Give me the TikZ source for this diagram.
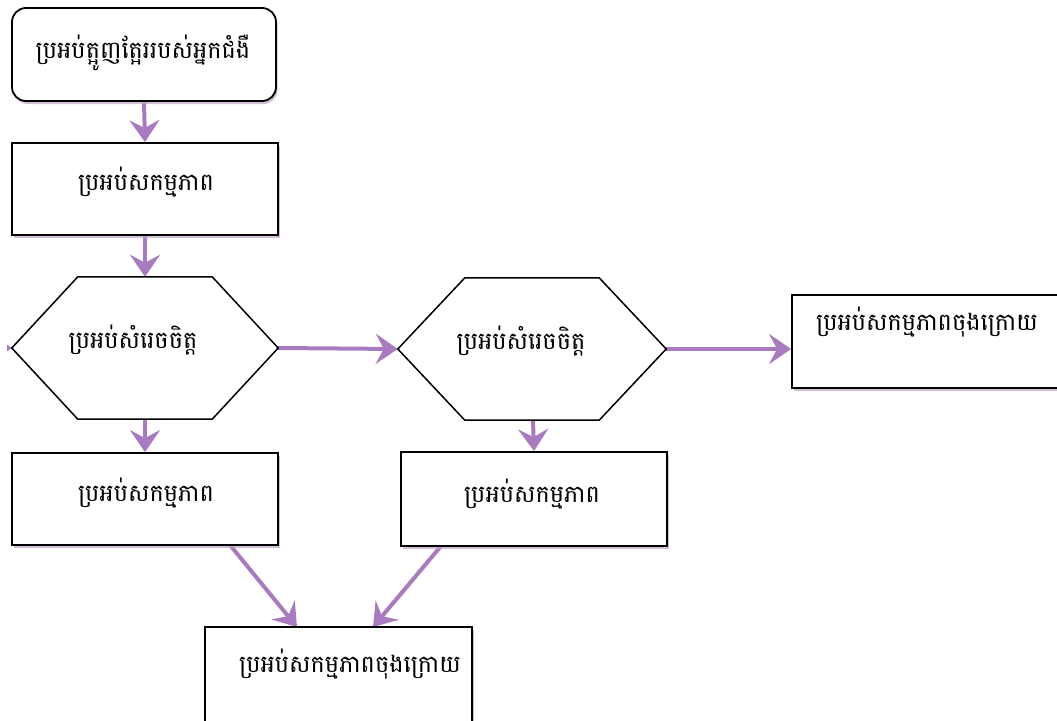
\documentclass[tikz,border=0pt]{standalone}
\usepackage{fontspec}
\newfontfamily\khmer[Script=Khmer]{Battambang}
\usetikzlibrary{arrows.meta,shadows,calc,backgrounds}
\definecolor{flowc}{RGB}{168,122,192}
\definecolor{shadowc}{RGB}{190,165,200}
\begin{document}
\begin{tikzpicture}[x=1pt,y=-1pt,
  boxbase/.style={draw=black, line width=1.8pt, fill=white, inner sep=0pt,
    minimum width=266pt, minimum height=92pt,
    drop shadow={shadow xshift=1.5pt, shadow yshift=-3pt, fill=shadowc, opacity=0.7}},
  startbox/.style={boxbase, rounded corners=14pt, minimum width=264pt, minimum height=93pt},
  hexframe/.style={draw=none, inner sep=0pt, minimum width=266pt, minimum height=142pt},
  hexline/.style={draw=black, line width=1.5pt, fill=white, line join=miter},
  lbl/.style={font=\khmer\fontsize{24}{28}\selectfont, inner sep=0pt, anchor=base},
  flow/.style={draw=flowc, line width=4pt, -{Stealth[length=22pt,width=30pt,inset=8pt]}}
]
\useasboundingbox (0,0) rectangle (1057,720);
\clip (0,0) rectangle (1057,720);

% frames of the hexagons (invisible), outlines drawn below
\node[hexframe] (h1) at (145,348) {};
\node[hexframe, minimum width=268pt] (h2) at (532,349) {};
\draw[hexline] (h1.west) -- ([xshift=66pt]h1.north west) -- ([xshift=-66pt]h1.north east)
  -- (h1.east) -- ([xshift=-66pt]h1.south east) -- ([xshift=66pt]h1.south west) -- cycle;
\draw[hexline] (h2.west) -- ([xshift=67pt]h2.north west) -- ([xshift=-67pt]h2.north east)
  -- (h2.east) -- ([xshift=-67pt]h2.south east) -- ([xshift=67pt]h2.south west) -- cycle;

% boxes
\node[startbox] (s) at (144,54.5) {};
\node[boxbase] (b2) at (145,189) {};
\node[boxbase, minimum width=270pt, minimum height=93pt] (r) at (927,341.5) {};
\node[boxbase] (b3) at (145,499) {};
\node[boxbase, minimum height=94pt] (b4) at (534,499) {};
\node[boxbase, minimum width=267pt, minimum height=97pt] (e) at (338.5,675.5) {};

% labels
\node[lbl] (ts) at (143,58) {ប្រអប់ត្អូញត្អែររបស់អ្នកជំងឺ};
\node[lbl] (t2) at (146,190) {ប្រអប់សកម្មភាព};
\node[lbl] (th1) at (133,348) {ប្រអប់សំរេចចិត្ត};
\node[lbl] (th2) at (521,349) {ប្រអប់សំរេចចិត្ត};
\node[lbl] (tr) at (927,330) {ប្រអប់សកម្មភាពចុងក្រោយ};
\node[lbl] (t3) at (146,501) {ប្រអប់សកម្មភាព};
\node[lbl] (t4) at (532,502) {ប្រអប់សកម្មភាព};
\node[lbl] (te) at (350,672) {ប្រអប់សកម្មភាពចុងក្រោយ};

% connectors
\coordinate (offleft) at (-40,348);
\coordinate (e1) at (297,627);
\coordinate (e2) at (373,627);
\coordinate (b3o) at (230,545);
\coordinate (b4o) at (441,546);
\begin{scope}[on background layer]
\fill[white] (0,0) rectangle (1057,720);
\draw[flow] (s.south) -- (b2.north);
\draw[flow] (b2.south) -- (h1.north);
\draw[flow] (h1.east) -- (h2.west);
\draw[flow] (h2.east) -- (r.west |- h2.east);
\draw[flow] (h1.south) -- (b3.north);
\draw[flow] ([xshift=1pt]h2.south) -- (b4.north);
\draw[flow] (b3o) -- (e1);
\draw[flow] (b4o) -- (e2);
\begin{scope}
\clip (7,339) rectangle (14,357);
\draw[flow] (offleft) -- (h1.west);
\end{scope}
\end{scope}
\end{tikzpicture}
\end{document}
